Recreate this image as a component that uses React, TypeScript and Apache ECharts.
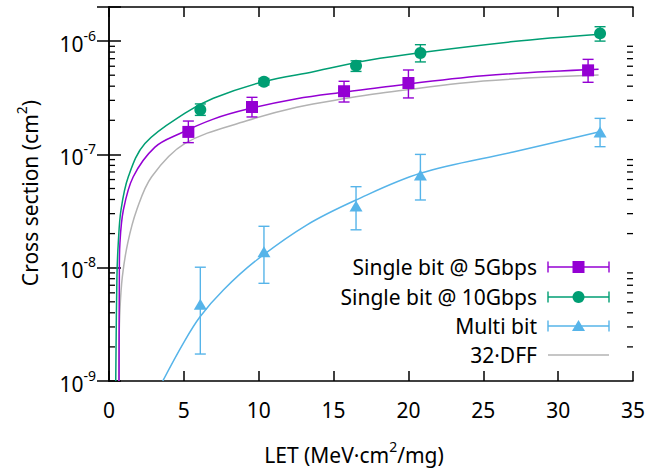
import React, { useEffect, useRef } from 'react';
import * as echarts from 'echarts';

// ---- Data ----
// Single bit @ 5Gbps
const let5 = [5.3, 9.55, 15.7, 20.0, 32.0];
const sig5 = [1.58e-7, 2.62e-7, 3.61e-7, 4.27e-7, 5.52e-7];
const lo5 = [1.27e-7, 2.14e-7, 2.9e-7, 3.15e-7, 4.33e-7];
const hi5 = [1.97e-7, 3.19e-7, 4.42e-7, 5.56e-7, 6.9e-7];

// Single bit @ 10Gbps
const let10 = [6.1, 10.35, 16.5, 20.8, 32.8];
const sig10 = [2.48e-7, 4.38e-7, 6.07e-7, 7.85e-7, 1.17e-6];
const lo10 = [2.21e-7, 4.1e-7, 5.4e-7, 6.55e-7, 1.0e-6];
const hi10 = [2.79e-7, 4.68e-7, 6.7e-7, 9.3e-7, 1.34e-6];

// Multi bit
const letMulti = [6.1, 10.35, 16.5, 20.8, 32.8];
const sigMulti = [4.75e-9, 1.38e-8, 3.5e-8, 6.58e-8, 1.58e-7];
const loMulti = [1.73e-9, 7.28e-9, 2.16e-8, 3.96e-8, 1.17e-7];
const hiMulti = [1.01e-8, 2.32e-8, 5.19e-8, 1.0e-7, 2.08e-7];

// Fitted curves
const fit5X = [0.67, 0.69, 0.73, 0.96, 1.62, 3.07, 4.74, 6.97, 9.2, 12.54, 15.88, 18.1, 25.0, 32.7];
const fit5Y = [1.0e-9, 8.0e-9, 1.65e-8, 3.23e-8, 6.35e-8, 1.16e-7, 1.53e-7, 2.05e-7, 2.5e-7, 3.1e-7, 3.57e-7, 3.9e-7, 4.95e-7, 5.64e-7];

const fit10X = [0.45, 0.53, 0.62, 0.8, 1.29, 2.4, 5.08, 6.97, 10.31, 13.65, 18.1, 27.0, 32.8];
const fit10Y = [1.0e-9, 8.3e-9, 1.65e-8, 3.23e-8, 6.35e-8, 1.25e-7, 2.31e-7, 3.13e-7, 4.38e-7, 5.37e-7, 7.05e-7, 9.9e-7, 1.15e-6];

const fitMultiX = [3.59, 4.96, 6.08, 7.64, 9.87, 13.2, 16.5, 20.8, 27.0, 32.7];
const fitMultiY = [1.0e-9, 2.15e-9, 3.69e-9, 6.36e-9, 1.17e-8, 2.38e-8, 3.96e-8, 6.81e-8, 1.05e-7, 1.58e-7];

const dffX = [0.66, 0.67, 0.73, 0.89, 1.25, 1.85, 2.85, 5.08, 9.2, 12.54, 15.88, 18.1, 25.0, 32.7];
const dffY = [1.0e-9, 2.17e-9, 4.23e-9, 8.3e-9, 1.65e-8, 3.23e-8, 6.35e-8, 1.25e-7, 1.98e-7, 2.61e-7, 3.13e-7, 3.46e-7, 4.44e-7, 5.02e-7];

// Axis
const xMin = 0;
const xMax = 35;
const xInterval = 5;
const yMin = 1e-9;
const yMax = 2e-6;
const yMinorTicks = [
  2e-9, 3e-9, 4e-9, 5e-9, 6e-9, 7e-9, 8e-9, 9e-9,
  2e-8, 3e-8, 4e-8, 5e-8, 6e-8, 7e-8, 8e-8, 9e-8,
  2e-7, 3e-7, 4e-7, 5e-7, 6e-7, 7e-7, 8e-7, 9e-7,
];

const legendNames = ['Single bit @ 5Gbps', 'Single bit @ 10Gbps', 'Multi bit', '32·DFF'];

const PURPLE = '#9400d3';
const GREEN = '#009e73';
const BLUE = '#56b4e9';
const GRAY = '#b3b3b3';
const FONT = 'Noto Sans';
const FS = 21;
const SUP = 14;

const zip = (a: number[], b: number[]) => a.map((v, i) => [v, b[i]]);

function errorSeries(xs: number[], lo: number[], hi: number[], color: string) {
  return {
    type: 'custom',
    silent: true,
    z: 3,
    data: xs.map((x, i) => [x, lo[i], hi[i]]),
    encode: { x: 0, y: [1, 2] },
    renderItem: (_p: any, api: any) => {
      const x = api.value(0);
      const p1 = api.coord([x, api.value(1)]);
      const p2 = api.coord([x, api.value(2)]);
      const w = 5.5;
      const style = { stroke: color, lineWidth: 1.4 };
      return {
        type: 'group',
        children: [
          { type: 'line', shape: { x1: p1[0], y1: p1[1], x2: p2[0], y2: p2[1] }, style },
          { type: 'line', shape: { x1: p1[0] - w, y1: p1[1], x2: p1[0] + w, y2: p1[1] }, style },
          { type: 'line', shape: { x1: p2[0] - w, y1: p2[1], x2: p2[0] + w, y2: p2[1] }, style },
        ],
      };
    },
  };
}

function fitSeries(xs: number[], ys: number[], color: string) {
  return {
    type: 'custom',
    silent: true,
    z: 2,
    data: zip(xs, ys),
    encode: { x: 0, y: 1 },
    renderItem: (params: any, api: any) => {
      if (params.dataIndex !== 0) return { type: 'group', children: [] };
      const pts = xs.map((x, i) => api.coord([x, ys[i]]));
      const cs = params.coordSys;
      return {
        type: 'polyline',
        shape: { points: pts, smooth: 0.35 },
        style: { stroke: color, lineWidth: 1.5, fill: 'none' },
        clipPath: { type: 'rect', shape: { x: cs.x, y: cs.y, width: cs.width, height: cs.height } },
      };
    },
  };
}

function markerSeries(xs: number[], ys: number[], color: string, symbol: string, size: number | number[]) {
  return {
    type: 'scatter',
    data: zip(xs, ys),
    symbol,
    symbolSize: size,
    z: 5,
    silent: true,
    itemStyle: { color, opacity: 1 },
  };
}

function buildLegend() {
  const rows = [267, 297, 326, 355];
  const colors = [PURPLE, GREEN, BLUE, GRAY];
  const textRight = 537;
  const x1 = 548;
  const x2 = 609;
  const xm = (x1 + x2) / 2;
  const els: any[] = [];
  rows.forEach((y, i) => {
    els.push({
      type: 'text',
      x: textRight,
      y,
      style: {
        text: legendNames[i],
        align: 'right',
        verticalAlign: 'middle',
        font: `${FS}px "${FONT}"`,
        fill: '#000',
      },
    });
    const c = colors[i];
    const ls = { stroke: c, lineWidth: 1.4 };
    els.push({ type: 'line', shape: { x1, y1: y, x2, y2: y }, style: ls });
    if (i < 3) {
      els.push({ type: 'line', shape: { x1, y1: y - 5.5, x2: x1, y2: y + 5.5 }, style: ls });
      els.push({ type: 'line', shape: { x1: x2, y1: y - 5.5, x2, y2: y + 5.5 }, style: ls });
    }
    if (i === 0) {
      els.push({ type: 'rect', shape: { x: xm - 6, y: y - 6, width: 12, height: 12 }, style: { fill: c } });
    } else if (i === 1) {
      els.push({ type: 'circle', shape: { cx: xm, cy: y, r: 6 }, style: { fill: c } });
    } else if (i === 2) {
      els.push({
        type: 'polygon',
        shape: { points: [[xm, y - 6], [xm - 6.5, y + 5], [xm + 6.5, y + 5]] },
        style: { fill: c },
      });
    }
  });
  return els;
}

const richText = {
  b: { fontSize: FS, fontFamily: FONT, fill: '#000', color: '#000', verticalAlign: 'bottom', lineHeight: 26 },
  s: { fontSize: SUP, fontFamily: FONT, fill: '#000', color: '#000', verticalAlign: 'top', lineHeight: 26, padding: [0, 0, 14, 0] },
};

export default function App() {
  const ref = useRef<HTMLDivElement>(null);
  useEffect(() => {
    const chart = echarts.init(ref.current!, null, { renderer: 'svg' });
    const axisLineStyle = { color: '#000', width: 1.5 };
    const logLabel = (v: number) => {
      const e = Math.log10(v);
      const r = Math.round(e);
      if (Math.abs(e - r) > 1e-6) return '';
      return `{b|10}{s|${r}}`;
    };
    const option: any = {
      animation: false,
      backgroundColor: '#fff',
      textStyle: { fontFamily: FONT },
      grid: { left: 109, right: 27, top: 7, bottom: 89, outerBoundsMode: 'none', containLabel: false },
      xAxis: [
        {
          type: 'value',
          min: xMin,
          max: xMax,
          interval: xInterval,
          position: 'bottom',
          axisLine: { show: true, lineStyle: axisLineStyle },
          axisTick: { show: true, inside: true, length: 10, lineStyle: { color: '#000', width: 1.5 } },
          axisLabel: { show: true, margin: 18, fontSize: FS, color: '#000', fontFamily: FONT, showMinLabel: true, showMaxLabel: true },
          splitLine: { show: false },
        },
        {
          type: 'value',
          min: xMin,
          max: xMax,
          interval: xInterval,
          position: 'top',
          axisLine: { show: true, lineStyle: axisLineStyle },
          axisTick: { show: true, inside: true, length: 10, lineStyle: { color: '#000', width: 1.5 } },
          axisLabel: { show: false },
          splitLine: { show: false },
        },
      ],
      yAxis: [
        {
          type: 'log',
          logBase: 10,
          min: yMin,
          max: yMax,
          position: 'left',
          axisLine: { show: true, lineStyle: axisLineStyle },
          axisTick: { show: true, inside: true, length: 12, lineStyle: { color: '#000', width: 1.5 } },
          axisLabel: {
            show: true,
            margin: 13,
            color: '#000',
            formatter: logLabel,
            rich: richText,
          },
          splitLine: { show: false },
          minorTick: { show: false },
        },
        {
          type: 'log',
          logBase: 10,
          min: yMin,
          max: yMax,
          position: 'right',
          axisLine: { show: true, lineStyle: axisLineStyle },
          axisTick: { show: true, inside: true, length: 12, lineStyle: { color: '#000', width: 1.5 } },
          axisLabel: { show: false },
          splitLine: { show: false },
        },
      ],
      series: [
        {
          type: 'custom',
          silent: true,
          z: 1,
          data: yMinorTicks.map((v) => [xMin, v]),
          encode: { x: 0, y: 1 },
          renderItem: (_p: any, api: any) => {
            const v = api.value(1);
            const a = api.coord([xMin, v]);
            const b = api.coord([xMax, v]);
            const style = { stroke: '#000', lineWidth: 1.3 };
            return {
              type: 'group',
              children: [
                { type: 'line', shape: { x1: a[0], y1: a[1], x2: a[0] + 6, y2: a[1] }, style },
                { type: 'line', shape: { x1: b[0] - 6, y1: b[1], x2: b[0], y2: b[1] }, style },
              ],
            };
          },
        },
        fitSeries(dffX, dffY, GRAY),
        fitSeries(fitMultiX, fitMultiY, BLUE),
        fitSeries(fit5X, fit5Y, PURPLE),
        fitSeries(fit10X, fit10Y, GREEN),
        errorSeries(letMulti, loMulti, hiMulti, BLUE),
        errorSeries(let5, lo5, hi5, PURPLE),
        errorSeries(let10, lo10, hi10, GREEN),
        markerSeries(letMulti, sigMulti, BLUE, 'triangle', [13, 11]),
        markerSeries(let5, sig5, PURPLE, 'rect', 12),
        markerSeries(let10, sig10, GREEN, 'circle', 12),
      ],
      graphic: [
        {
          type: 'text',
          x: 354,
          y: 452,
          style: {
            text: '{b|LET (MeV·cm}{s|2}{b|/mg)}',
            align: 'center',
            verticalAlign: 'middle',
            rich: richText,
          },
        },
        {
          type: 'text',
          x: 27,
          y: 193,
          rotation: Math.PI / 2,
          style: {
            text: '{b|Cross section (cm}{s|2}{b|)}',
            align: 'center',
            verticalAlign: 'middle',
            rich: richText,
          },
        },
        ...buildLegend(),
      ],
    };
    chart.setOption(option);
    return () => chart.dispose();
  }, []);
  return <div ref={ref} style={{ position: 'absolute', left: 0, top: 0, width: 660, height: 470 }} />;
}
